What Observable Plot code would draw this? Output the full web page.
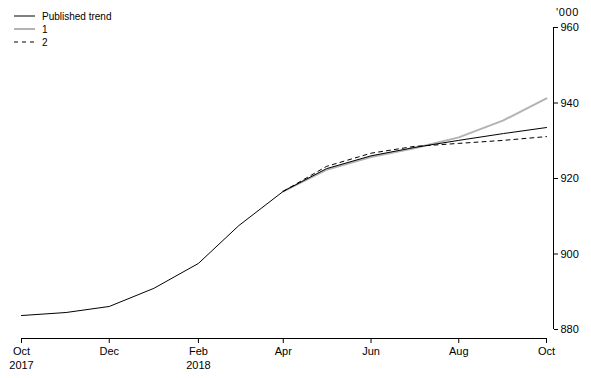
<!DOCTYPE html>
<html><head><meta charset="utf-8">
<script src="https://cdn.jsdelivr.net/npm/d3@7"></script>
<script src="https://cdn.jsdelivr.net/npm/@observablehq/plot@0.6"></script>
<style>
body{margin:0;background:#fff;}
#wrap{position:relative;width:591px;height:378px;font-family:"Liberation Sans",Arial,sans-serif;}
#overlay{position:absolute;left:0;top:0;pointer-events:none;}
</style></head><body>
<div id="wrap"><div id="chart"></div>
<svg id="overlay" width="591" height="60" font-family="Liberation Sans, Arial, sans-serif" font-size="10">
  <line x1="14" x2="35" y1="16" y2="16" stroke="#000" stroke-width="1"/>
  <text x="42" y="19.5">Published trend</text>
  <line x1="14" x2="35" y1="29" y2="29" stroke="#b3b3b3" stroke-width="2"/>
  <text x="42" y="32.5">1</text>
  <line x1="14" x2="35" y1="42" y2="42" stroke="#000" stroke-width="1" stroke-dasharray="4,4"/>
  <text x="42" y="45.5">2</text>
  <text x="556" y="15.5" font-size="11" letter-spacing="0.6">'000</text>
</svg>
</div>
<script>
const months = ["2017-10","2017-11","2017-12","2018-01","2018-02","2018-03","2018-04","2018-05","2018-06","2018-07","2018-08","2018-09","2018-10"];
const published = [883.7, 884.5, 886.1, 890.9, 897.5, 907.5, 916.6, 922.6, 926.0, 928.2, 930.1, 931.9, 933.5];
const series1 = [null, null, null, null, null, null, 916.6, 922.3, 925.7, 928.0, 930.9, 935.4, 941.2];
const series2 = [null, null, null, null, null, null, 916.6, 923.2, 926.7, 928.5, 929.3, 930.1, 931.1];
const yTicks = [880, 900, 920, 940, 960];
const yearTickMonths = ["2017-10", "2018-02"];

const parse = s => { const [y, m] = s.split("-").map(Number); return new Date(Date.UTC(y, m - 1, 1)); };
const dates = months.map(parse);
const rows = (vals, name) => vals.map((v, i) => ({date: dates[i], value: v, series: name})).filter(d => d.value != null);
const start = dates[0], end = dates[dates.length - 1];
const monthTicks = dates.filter((d, i) => i % 2 === 0);
const yearTicks = yearTickMonths.map(parse);

const chart = Plot.plot({
  width: 591, height: 378,
  marginLeft: 21, marginRight: 38, marginTop: 27, marginBottom: 40,
  style: {fontFamily: "Liberation Sans, Arial, sans-serif", fontSize: "11px", color: "#000", background: "#fff"},
  x: {type: "utc", domain: [start, end], range: [21, 546]},
  y: {domain: [880, 960], range: [329, 27]},
  marks: [
    Plot.line(rows(series1, "1"), {x: "date", y: "value", stroke: "#b3b3b3", strokeWidth: 2}),
    Plot.line(rows(published, "Published trend"), {x: "date", y: "value", stroke: "#000", strokeWidth: 1}),
    Plot.line(rows(series2, "2"), {x: "date", y: "value", stroke: "#000", strokeWidth: 1, strokeDasharray: "4,4"}),
    Plot.ruleY([{y: 880, x1: start, x2: end}], {y: "y", x1: "x1", x2: "x2", dy: 9, stroke: "#000"}),
    Plot.ruleX([{x: end, y1: 880, y2: 960}], {x: "x", y1: "y1", y2: "y2", dx: 7, stroke: "#000"}),
    Plot.axisX({ticks: monthTicks, tickFormat: d3.utcFormat("%b"), tickSize: 5, tickPadding: 4, fontSize: 11, label: null, strokeOpacity: 1, letterSpacing: 0.3}),
    Plot.axisX({ticks: yearTicks, tickFormat: d3.utcFormat("%Y"), tickSize: 0, tickPadding: 23, fontSize: 11, label: null, letterSpacing: 1.2}),
    Plot.axisY({anchor: "right", ticks: yTicks, tickSize: 4, tickPadding: 3, fontSize: 11, label: null, letterSpacing: 1.2, strokeOpacity: 1})
  ]
});
document.getElementById("chart").appendChild(chart);
</script>
</body></html>
